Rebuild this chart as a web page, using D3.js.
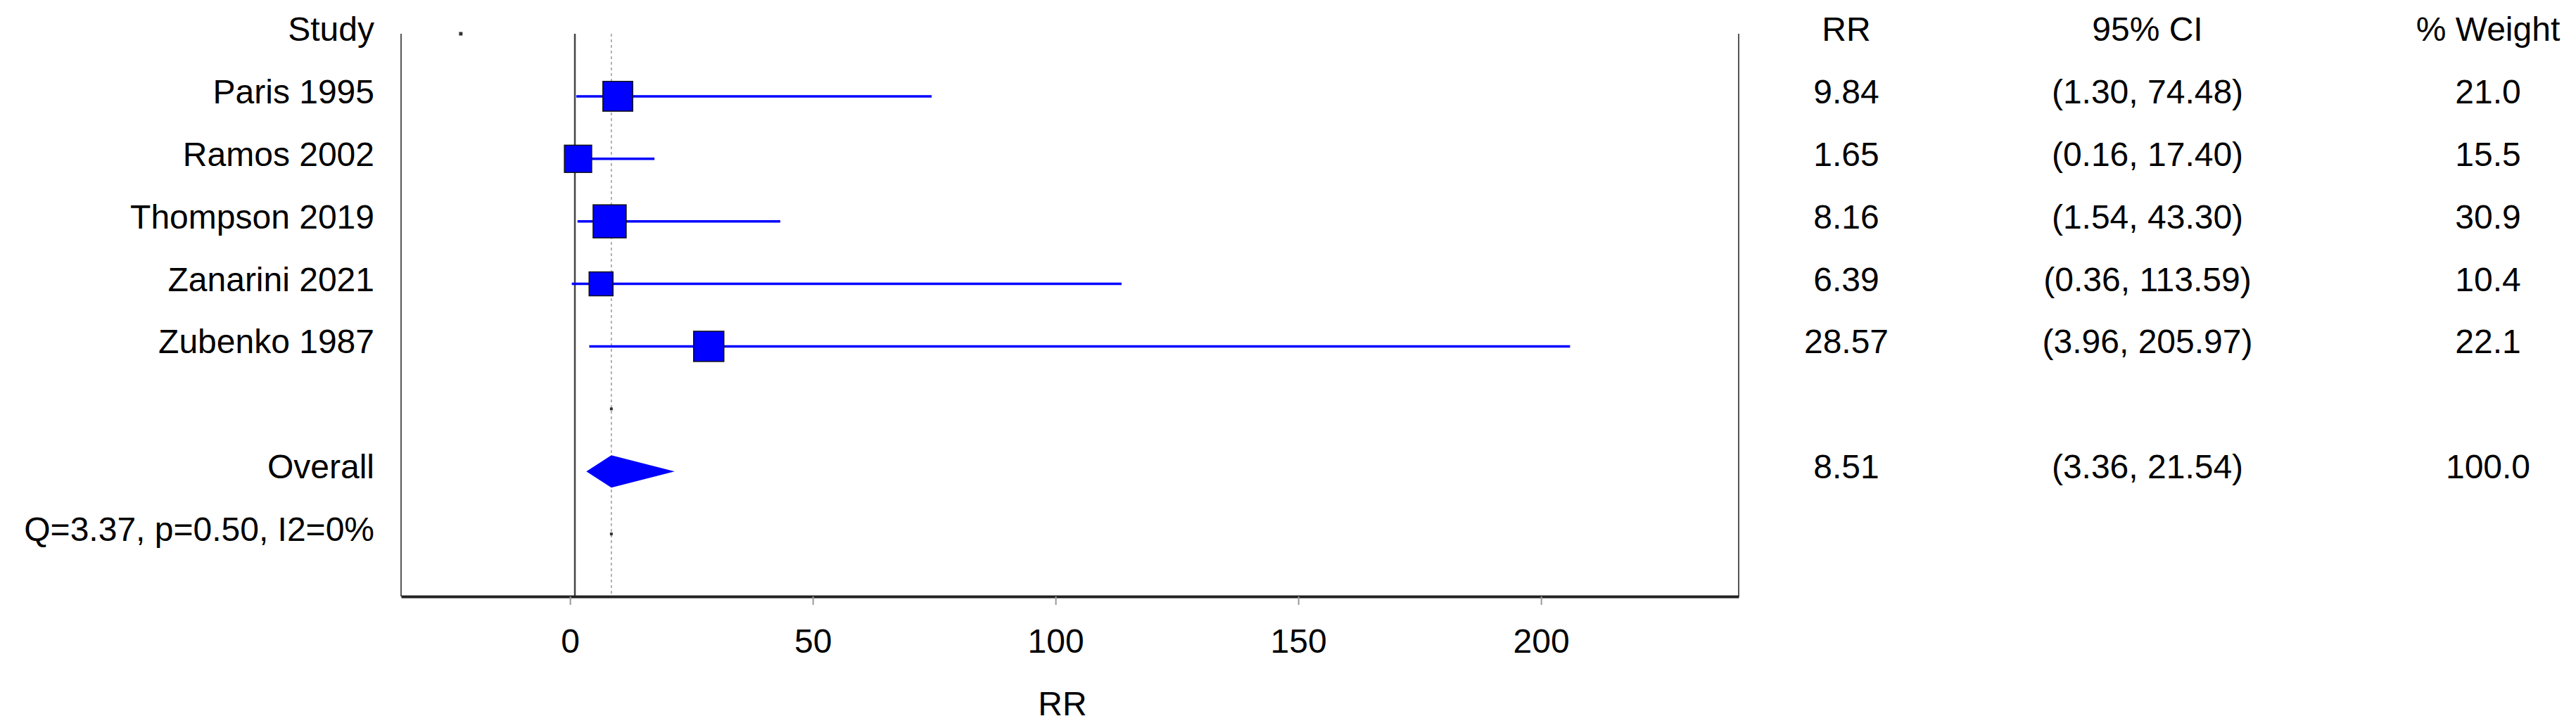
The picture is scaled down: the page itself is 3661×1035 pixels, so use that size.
<!DOCTYPE html>
<html><head><meta charset="utf-8">
<script src="https://cdn.jsdelivr.net/npm/d3@7"></script>
<style>html,body{margin:0;padding:0;background:#fff;overflow:hidden}</style>
</head><body><svg id="chart" width="3661" height="1035"></svg>
<script>
// ---- data ----
const studies = ["Paris 1995", "Ramos 2002", "Thompson 2019", "Zanarini 2021", "Zubenko 1987"];
const rr = [9.84, 1.65, 8.16, 6.39, 28.57];
const ciLow = [1.30, 0.16, 1.54, 0.36, 3.96];
const ciHigh = [74.48, 17.40, 43.30, 113.59, 205.97];
const weights = [21.0, 15.5, 30.9, 10.4, 22.1];
const overallLabel = "Overall";
const overallRR = 8.51;
const overallCI = [3.36, 21.54];
const overallWeight = 100.0;
const heterogeneity = "Q=3.37, p=0.50, I2=0%";
const headers = ["Study", "RR", "95% CI", "% Weight"];
const xTicks = [0, 50, 100, 150, 200];
const xDomain = [-34.8, 240.7];
const nullValue = 1;
const headerDotRR = -22.5;
const axisTitle = "RR";

// ---- layout ----
const svg = d3.select("#chart");
const FONT = "'Liberation Sans', Arial, Helvetica, sans-serif";
const FS = 48;
const x = d3.scaleLinear().domain(xDomain).range([570, 2471]);
const y = d3.scaleLinear().domain([0, 9]).range([48, 848]);
const size = d3.scaleLog().domain([d3.min(weights), d3.max(weights)]).range([34, 47]);
const rowY = i => y(i + 1);
const overallRow = studies.length + 2;
const hetRow = studies.length + 3;
const blankRow = studies.length + 1;
const colRR = 2624, colCI = 3052, colW = 3536, labelRight = 532;
const TXT = 10;

svg.append("rect").attr("width", 3661).attr("height", 1035).attr("fill", "#fff");

// frame sides
[x.range()[0], x.range()[1]].forEach(px => {
  svg.append("line").attr("x1", px).attr("x2", px).attr("y1", y(0)).attr("y2", y(9))
    .attr("stroke", "#555").attr("stroke-width", 2);
});

// null line & overall dashed line
svg.append("line").attr("x1", x(nullValue)).attr("x2", x(nullValue)).attr("y1", y(0)).attr("y2", y(9))
  .attr("stroke", "#444").attr("stroke-width", 2.5);
svg.append("line").attr("x1", x(overallRR)).attr("x2", x(overallRR)).attr("y1", y(0)).attr("y2", y(9))
  .attr("stroke", "#999").attr("stroke-width", 1.5).attr("stroke-dasharray", "4,4");

// x axis
const axis = d3.axisBottom(x).tickValues(xTicks).tickSize(12).tickPadding(34).tickSizeOuter(0);
const gAx = svg.append("g").attr("transform", `translate(0,${y(9)})`).call(axis);
gAx.select(".domain").attr("stroke", "#222").attr("stroke-width", 4);
gAx.selectAll(".tick line").attr("stroke", "#999").attr("stroke-width", 2);
gAx.selectAll(".tick text").attr("font-family", FONT).attr("font-size", FS).attr("fill", "#000");
svg.append("text").attr("x", 1510).attr("y", 1017).attr("text-anchor", "middle")
  .attr("font-family", FONT).attr("font-size", FS).text(axisTitle);

// header
const hdr = svg.append("g").attr("font-family", FONT).attr("font-size", FS).attr("fill", "#000");
hdr.append("text").attr("x", labelRight).attr("y", y(0) + TXT).attr("text-anchor", "end").text(headers[0]);
[[colRR, headers[1]], [colCI, headers[2]], [colW, headers[3]]].forEach(([cx, t]) => {
  hdr.append("text").attr("x", cx).attr("y", y(0) + TXT).attr("text-anchor", "middle").text(t);
});
svg.append("rect").attr("x", x(headerDotRR) - 2.5).attr("y", y(0) - 2.5).attr("width", 5).attr("height", 5).attr("fill", "#333");

// studies
const g = svg.append("g");
studies.forEach((s, i) => {
  const cy = rowY(i);
  g.append("line").attr("x1", x(ciLow[i])).attr("x2", x(ciHigh[i])).attr("y1", cy).attr("y2", cy)
    .attr("stroke", "#0000ff").attr("stroke-width", 3.5);
  const sz = size(weights[i]);
  g.append("rect").attr("x", x(rr[i]) - sz / 2).attr("y", cy - sz / 2).attr("width", sz).attr("height", sz)
    .attr("fill", "#0000ff").attr("stroke", "#111").attr("stroke-width", 1.5);
  const t = g.append("g").attr("font-family", FONT).attr("font-size", FS).attr("fill", "#000");
  t.append("text").attr("x", labelRight).attr("y", cy + TXT).attr("text-anchor", "end").text(s);
  t.append("text").attr("x", colRR).attr("y", cy + TXT).attr("text-anchor", "middle").text(rr[i].toFixed(2));
  t.append("text").attr("x", colCI).attr("y", cy + TXT).attr("text-anchor", "middle")
    .text(`(${ciLow[i].toFixed(2)}, ${ciHigh[i].toFixed(2)})`);
  t.append("text").attr("x", colW).attr("y", cy + TXT).attr("text-anchor", "middle").text(weights[i].toFixed(1));
});

// blank row dot
svg.append("rect").attr("x", x(overallRR) - 2).attr("y", y(blankRow) - 2).attr("width", 4).attr("height", 4).attr("fill", "#333");

// overall diamond
const oy = y(overallRow);
svg.append("polygon")
  .attr("points", [[x(overallCI[0]), oy], [x(overallRR), oy - 23], [x(overallCI[1]), oy], [x(overallRR), oy + 23]].map(p => p.join(",")).join(" "))
  .attr("fill", "#0000ff");
const to = svg.append("g").attr("font-family", FONT).attr("font-size", FS).attr("fill", "#000");
to.append("text").attr("x", labelRight).attr("y", oy + TXT).attr("text-anchor", "end").text(overallLabel);
to.append("text").attr("x", colRR).attr("y", oy + TXT).attr("text-anchor", "middle").text(overallRR.toFixed(2));
to.append("text").attr("x", colCI).attr("y", oy + TXT).attr("text-anchor", "middle")
  .text(`(${overallCI[0].toFixed(2)}, ${overallCI[1].toFixed(2)})`);
to.append("text").attr("x", colW).attr("y", oy + TXT).attr("text-anchor", "middle").text(overallWeight.toFixed(1));

// heterogeneity row
const hy = y(hetRow);
to.append("text").attr("x", labelRight).attr("y", hy + TXT).attr("text-anchor", "end").text(heterogeneity);
svg.append("rect").attr("x", x(overallRR) - 2).attr("y", hy - 2).attr("width", 4).attr("height", 4).attr("fill", "#333");
</script>
</body></html>
